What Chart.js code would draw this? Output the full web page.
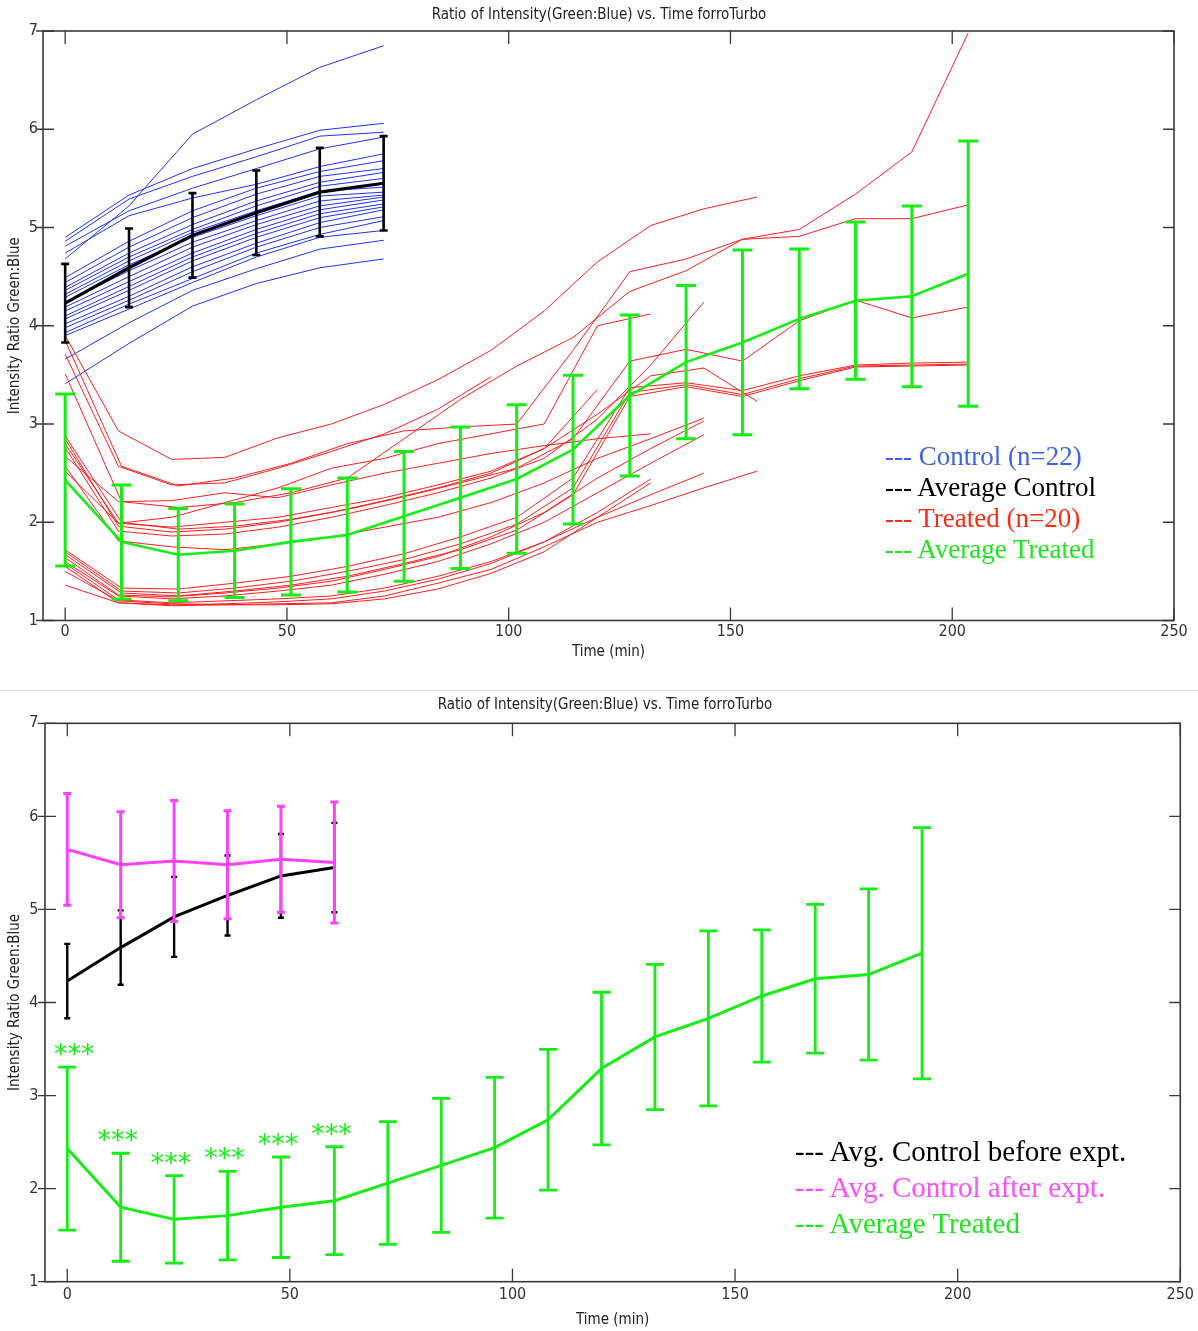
<!DOCTYPE html>
<html><head><meta charset="utf-8">
<script src="https://cdn.jsdelivr.net/npm/chart.js@4.4.1/dist/chart.umd.min.js"></script>
<style>
body{margin:0;background:#fff;width:1198px;height:1331px;position:relative;overflow:hidden;}
canvas{position:absolute;left:0;}
#c1{top:0px}
#c2{top:690px}
.ttl{position:absolute;left:0;width:1198px;text-align:center;font-family:'Liberation Sans Narrow','DejaVu Sans Condensed','Liberation Sans',sans-serif;font-size:15px;line-height:18px;color:#222;white-space:nowrap;}
.leg{position:absolute;font-family:'Liberation Serif',serif;white-space:nowrap;}
.leg div{height:var(--lh);line-height:var(--lh);}
#sep{position:absolute;left:0;top:690px;width:1198px;height:1px;background:#e4e4e4}
</style></head>
<body>
<canvas id="c1" width="1198" height="690"></canvas>
<div id="sep"></div>
<canvas id="c2" width="1198" height="641"></canvas>
<div class="ttl" style="top:5px">Ratio of Intensity(Green:Blue) vs. Time forroTurbo</div>
<div class="ttl" style="top:695px;left:6px">Ratio of Intensity(Green:Blue) vs. Time forroTurbo</div>
<div class="leg" style="left:885px;top:441px;font-size:27px;--lh:31px">
  <div style="color:#3f62ea">--- Control (n=22)</div>
  <div style="color:#000">--- Average Control</div>
  <div style="color:#ff2a12">--- Treated (n=20)</div>
  <div style="color:#1ee51e">--- Average Treated</div>
</div>
<div class="leg" style="left:795px;top:1133px;font-size:29px;--lh:36.2px">
  <div style="color:#000">--- Avg. Control before expt.</div>
  <div style="color:#ff4dff">--- Avg. Control after expt.</div>
  <div style="color:#1ee51e">--- Average Treated</div>
</div>
<script>
// ---------- DATA ----------
const xTicks = [0, 50, 100, 150, 200, 250];
const yTicks = [1, 2, 3, 4, 5, 6, 7];

// Top panel: control cells
const tControl = [0, 14.4, 28.7, 43.1, 57.4, 71.8];
const controlLines = [
  [4.68, 5.22, 5.95, 6.30, 6.63, 6.85],
  [4.90, 5.33, 5.60, 5.80, 5.99, 6.06],
  [4.86, 5.29, 5.52, 5.72, 5.93, 5.97],
  [4.81, 5.17, 5.40, 5.60, 5.80, 5.92],
  [4.74, 5.12, 5.30, 5.44, 5.62, 5.75],
  [4.49, 4.86, 5.17, 5.40, 5.57, 5.68],
  [4.44, 4.80, 5.10, 5.34, 5.52, 5.60],
  [4.39, 4.74, 5.03, 5.27, 5.46, 5.56],
  [4.36, 4.70, 4.98, 5.22, 5.42, 5.50],
  [4.32, 4.66, 4.95, 5.17, 5.37, 5.41],
  [4.29, 4.62, 4.90, 5.12, 5.32, 5.36],
  [4.24, 4.56, 4.85, 5.07, 5.27, 5.33],
  [4.19, 4.50, 4.80, 5.03, 5.22, 5.31],
  [4.15, 4.45, 4.74, 4.98, 5.18, 5.28],
  [4.10, 4.40, 4.70, 4.94, 5.14, 5.24],
  [4.07, 4.36, 4.66, 4.90, 5.10, 5.21],
  [4.02, 4.30, 4.60, 4.84, 5.05, 5.18],
  [3.98, 4.26, 4.55, 4.80, 5.00, 5.11],
  [3.93, 4.22, 4.48, 4.74, 4.93, 5.07],
  [3.90, 4.17, 4.44, 4.70, 4.90, 4.97],
  [3.66, 4.03, 4.36, 4.58, 4.78, 4.87],
  [3.41, 3.82, 4.20, 4.43, 4.59, 4.68]
];
const avgControl = [4.23, 4.59, 4.92, 5.15, 5.36, 5.45];
const sdControl  = [0.40, 0.40, 0.43, 0.43, 0.45, 0.48];

// Top panel: treated cells (17-point series use tTreatedLong, shorter ones tTreatedShort)
const tTreatedLong  = [0, 12.7, 25.5, 38.2, 50.9, 63.6, 76.4, 89.1, 101.8, 114.5, 127.3, 140, 152.7, 165.5, 178.2, 190.9, 203.6];
const tTreatedShort = [0, 12, 24, 36, 48, 60, 72, 84, 96, 108, 120, 132, 144, 156];
const treatedLines = [
  [3.85, 2.57, 2.37, 2.45, 2.60, 2.80, 2.93, 2.97, 3.00, 3.75, 4.55, 4.68, 4.88, 4.98, 5.34, 5.77, 6.98],
  [3.51, 2.21, 2.15, 2.20, 2.30, 2.45, 2.85, 3.25, 3.59, 3.88, 4.35, 4.56, 4.88, 4.91, 5.09, 5.09, 5.23],
  [2.88, 2.00, 1.93, 1.96, 2.03, 2.13, 2.26, 2.40, 2.55, 2.85, 3.64, 3.76, 3.64, 4.05, 4.26, 4.08, 4.19],
  [1.72, 1.33, 1.32, 1.38, 1.45, 1.55, 1.68, 1.85, 2.05, 2.45, 3.37, 3.42, 3.34, 3.49, 3.60, 3.62, 3.63],
  [1.70, 1.30, 1.28, 1.33, 1.40, 1.50, 1.62, 1.78, 1.98, 2.35, 3.32, 3.40, 3.30, 3.46, 3.59, 3.60, 3.61],
  [1.67, 1.28, 1.25, 1.30, 1.36, 1.45, 1.58, 1.72, 1.92, 2.28, 3.28, 3.38, 3.28, 3.44, 3.58, 3.59, 3.60],
  [3.90, 2.93, 2.64, 2.66, 2.86, 3.00, 3.20, 3.45, 3.75, 4.15, 4.65, 5.02, 5.19, 5.31],
  [2.85, 1.96, 1.90, 1.93, 2.00, 2.10, 2.22, 2.35, 2.50, 2.75, 3.10, 3.49, 3.57, 3.23],
  [1.36, 1.18, 1.15, 1.16, 1.17, 1.18, 1.25, 1.38, 1.52, 1.75, 2.00, 2.17, 2.35, 2.52],
  [3.71, 2.57, 2.38, 2.40, 2.55, 2.72, 2.90, 3.15, 3.48],
  [2.76, 1.91, 1.86, 1.88, 1.95, 2.05, 2.17, 2.30, 2.45, 2.65, 3.05, 3.60, 4.24],
  [2.80, 1.99, 2.05, 2.20, 2.35, 2.55, 2.65, 2.80, 2.90, 3.00, 4.00, 4.12],
  [2.57, 1.81, 1.75, 1.72, 1.78, 1.85, 1.95, 2.05, 2.20, 2.40, 2.65, 2.85, 3.06],
  [1.64, 1.26, 1.24, 1.28, 1.33, 1.40, 1.52, 1.65, 1.85, 2.10, 2.45, 2.75, 3.03],
  [1.60, 1.25, 1.22, 1.25, 1.30, 1.36, 1.47, 1.60, 1.78, 2.00, 2.30, 2.60, 2.89],
  [1.58, 1.21, 1.18, 1.20, 1.22, 1.25, 1.33, 1.45, 1.60, 1.80, 2.05, 2.28, 2.50],
  [1.55, 1.18, 1.16, 1.17, 1.19, 1.22, 1.30, 1.42, 1.58, 1.80, 2.10, 2.44],
  [2.67, 2.21, 2.22, 2.30, 2.25, 2.38, 2.50, 2.60, 2.70, 2.78, 2.85, 2.90],
  [2.52, 1.99, 1.95, 2.00, 2.05, 2.15, 2.25, 2.38, 2.52, 2.75, 3.35],
  [1.50, 1.20, 1.17, 1.16, 1.16, 1.17, 1.22, 1.32, 1.48, 1.70, 2.05, 2.40]
];
const avgTreated = [2.43, 1.80, 1.67, 1.71, 1.80, 1.87, 2.06, 2.25, 2.44, 2.74, 3.29, 3.63, 3.83, 4.07, 4.255, 4.30, 4.53];
const sdTreated  = [0.875, 0.58, 0.47, 0.476, 0.54, 0.58, 0.66, 0.72, 0.756, 0.757, 0.82, 0.78, 0.94, 0.71, 0.80, 0.92, 1.35];

// Bottom panel
const tBottom = [0, 12, 24, 36, 48, 60, 72, 84, 96, 108, 120, 132, 144, 156, 168, 180, 192];
const avgControlAfter = [5.645, 5.48, 5.52, 5.48, 5.54, 5.505];
const sdControlAfter  = [0.60, 0.57, 0.65, 0.58, 0.57, 0.65];
const sigMarks = ['***', '***', '***', '***', '***', '***'];

// ---------- RENDER ----------
const NARROW = "'Liberation Sans Narrow','DejaVu Sans Condensed','Liberation Sans',sans-serif";
const BLUE = 'rgb(30,50,255)', RED = 'rgb(255,30,30)', GREEN = 'rgb(20,238,20)', MAGENTA = 'rgb(255,64,255)';

function pts(xs, ys) { return ys.map((v, i) => ({ x: xs[i], y: v })); }
function lineDs(xs, ys, color, width, order, extra) {
  return Object.assign({ data: pts(xs, ys), borderColor: color, backgroundColor: color, borderWidth: width,
    pointRadius: 0, fill: false, tension: 0, order: order, showLine: true }, extra || {});
}

const errBars = {
  id: 'errBars',
  afterDatasetDraw(chart, args) {
    const ds = chart.data.datasets[args.index];
    if (!ds.err) return;
    const { ctx, scales: { x, y } } = chart;
    ctx.save();
    ctx.strokeStyle = ds.borderColor; ctx.lineWidth = ds.errWidth; ctx.lineCap = 'butt';
    ds.data.forEach((p, i) => {
      const px = x.getPixelForValue(p.x);
      const yTop = y.getPixelForValue(p.y + ds.err[i]);
      const yBot = y.getPixelForValue(p.y - ds.err[i]);
      ctx.beginPath();
      ctx.moveTo(px, yBot); ctx.lineTo(px, yTop);
      ctx.moveTo(px - ds.cap, yTop); ctx.lineTo(px + ds.cap, yTop);
      ctx.moveTo(px - ds.cap, yBot); ctx.lineTo(px + ds.cap, yBot);
      ctx.stroke();
    });
    ctx.restore();
  }
};

const frame = {
  id: 'frame',
  afterDatasetsDraw(chart) {
    const { ctx, chartArea: a, scales: { x, y } } = chart;
    ctx.save();
    ctx.strokeStyle = '#3a3a3a';
    ctx.lineWidth = 1.6;
    ctx.strokeRect(a.left, a.top, a.right - a.left, a.bottom - a.top);
    ctx.lineWidth = 1.3;
    ctx.beginPath();
    x.ticks.forEach(t => {
      const px = x.getPixelForValue(t.value);
      ctx.moveTo(px, a.bottom); ctx.lineTo(px, a.bottom - 13);
      ctx.moveTo(px, a.top); ctx.lineTo(px, a.top + 13);
    });
    y.ticks.forEach(t => {
      const py = y.getPixelForValue(t.value);
      ctx.moveTo(a.left - 7, py); ctx.lineTo(a.left + 11, py);
      ctx.moveTo(a.right, py); ctx.lineTo(a.right - 11, py);
    });
    ctx.stroke();
    ctx.restore();
  }
};

const stars = {
  id: 'stars',
  afterDatasetsDraw(chart) {
    const opts = chart.options.plugins.stars;
    if (!opts || !opts.enabled) return;
    const { ctx, scales: { x, y } } = chart;
    ctx.save();
    ctx.fillStyle = GREEN;
    ctx.font = "27px 'DejaVu Sans', sans-serif";
    ctx.textAlign = 'center'; ctx.textBaseline = 'middle';
    sigMarks.forEach((m, i) => {
      const px = x.getPixelForValue(tBottom[i]);
      const py = y.getPixelForValue(avgTreated[i] + sdTreated[i]);
      ctx.fillText(m, px + (i === 0 ? 7 : -3), py - 11);
    });
    ctx.restore();
  }
};

function scales(yWidth, xHeight, xTickPad, xTitlePad, yTickPad, yTitlePad) {
  return {
    x: {
      type: 'linear', min: -5, max: 250,
      afterBuildTicks: s => { s.ticks = xTicks.map(v => ({ value: v })); },
      afterFit: s => { s.height = xHeight; },
      grid: { display: false, drawTicks: false }, border: { display: false },
      ticks: { font: { family: NARROW, size: 16 }, color: '#333', padding: xTickPad, maxRotation: 0, autoSkip: false },
      title: { display: true, text: 'Time (min)', font: { family: NARROW, size: 15 }, color: '#222', padding: { top: 0, bottom: xTitlePad } }
    },
    y: {
      type: 'linear', min: 1, max: 7,
      afterBuildTicks: s => { s.ticks = yTicks.map(v => ({ value: v })); },
      afterFit: s => { s.width = yWidth; },
      grid: { display: false, drawTicks: false }, border: { display: false },
      ticks: { font: { family: NARROW, size: 16 }, color: '#333', padding: yTickPad },
      title: { display: true, text: 'Intensity Ratio Green:Blue', font: { family: NARROW, size: 15 }, color: '#222', padding: { top: yTitlePad, bottom: 0 } }
    }
  };
}

const common = (padTop, padRight, sc, starsOn) => ({
  responsive: false, animation: false, devicePixelRatio: 1, events: [],
  layout: { padding: { top: padTop, right: padRight, left: 0, bottom: 0 } },
  plugins: { legend: { display: false }, tooltip: { enabled: false }, title: { display: false }, stars: { enabled: starsOn } },
  scales: sc
});

// Top chart datasets
const topSets = [];
controlLines.forEach(v => topSets.push(lineDs(tControl, v, BLUE, 1, 40)));
treatedLines.forEach(v => topSets.push(lineDs(v.length === tTreatedLong.length ? tTreatedLong : tTreatedShort, v, RED, 1, 30)));
topSets.push(lineDs(tControl, avgControl, '#000', 3.2, 20, { err: sdControl, cap: 4, errWidth: 2.6 }));
topSets.push(lineDs(tTreatedLong, avgTreated, GREEN, 2.6, 10, { err: sdTreated, cap: 10, errWidth: 3 }));

new Chart(document.getElementById('c1'), {
  type: 'line',
  data: { datasets: topSets },
  options: common(31, 24, scales(43, 69.5, 2, 29, 5, 6), false),
  plugins: [errBars, frame, stars]
});

// Bottom chart datasets
const botSets = [
  lineDs(tBottom.slice(0, avgControl.length), avgControl, '#000', 3, 30, { err: sdControl, cap: 3, errWidth: 2.4 }),
  lineDs(tBottom.slice(0, avgControlAfter.length), avgControlAfter, MAGENTA, 3, 20, { err: sdControlAfter, cap: 4, errWidth: 3 }),
  lineDs(tBottom, avgTreated, GREEN, 3, 10, { err: sdTreated, cap: 9, errWidth: 2.8 })
];

new Chart(document.getElementById('c2'), {
  type: 'line',
  data: { datasets: botSets },
  options: common(33.3, 12, scales(45, 49.3, 4, 2, 6.5, 6), true),
  plugins: [errBars, frame, stars]
});
</script>
</body></html>
